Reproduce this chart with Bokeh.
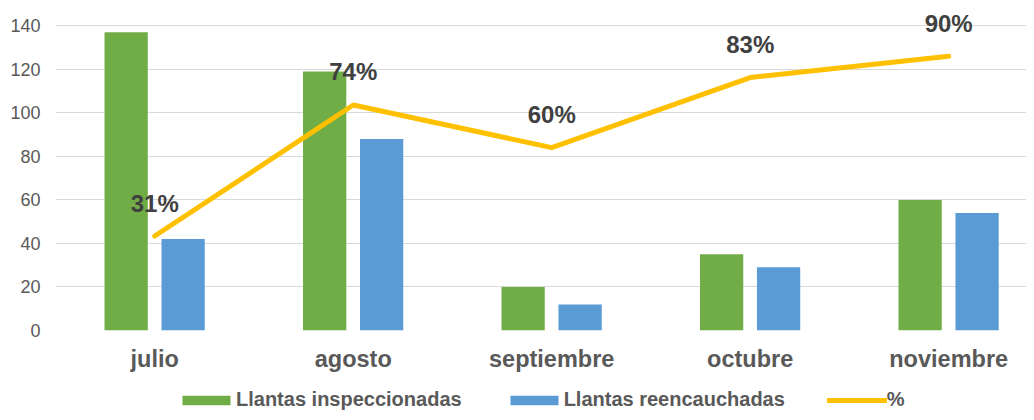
from bokeh.plotting import figure
from bokeh.models import (ColumnDataSource, Range1d, FixedTicker,
                          Legend, LegendItem, Spacer)
from bokeh.layouts import column, row
from bokeh.core.properties import value
from bokeh.embed import file_html
from bokeh.resources import INLINE

categories = ["julio", "agosto", "septiembre", "octubre", "noviembre"]
inspeccionadas = [137, 119, 20, 35, 60]
reencauchadas = [42, 88, 12, 29, 54]
porcentaje = [0.31, 0.74, 0.60, 0.83, 0.90]
pct_labels = ["31%", "74%", "60%", "83%", "90%"]
series_names = ["Llantas inspeccionadas", "Llantas reencauchadas", "%"]

FONT = "Liberation Sans"
GREEN = "#70AD47"
BLUE = "#5B9BD5"
GOLD = "#FFC000"
GREY = "#595959"

x = list(range(len(categories)))
src = ColumnDataSource(dict(
    x=x,
    xg=[i - 0.144 for i in x],
    xb=[i + 0.143 for i in x],
    ins=inspeccionadas,
    ree=reencauchadas,
    pct=porcentaje,
    lab=pct_labels,
))

Y_MAX = 147
p = figure(width=1026, height=380, output_backend="svg", toolbar_location=None,
           x_range=Range1d(-0.5, 4.392), y_range=Range1d(0, Y_MAX),
           min_border_left=55, min_border_right=0, min_border_top=10,
           min_border_bottom=50)
p.extra_y_ranges = {"pct": Range1d(0, Y_MAX / 140)}
p.outline_line_color = None
p.background_fill_color = "white"
p.border_fill_color = "white"

p.vbar(x="xg", top="ins", width=0.218, source=src, fill_color=GREEN,
       line_color=None)
p.vbar(x="xb", top="ree", width=0.218, source=src, fill_color=BLUE,
       line_color=None)
p.line(x="x", y="pct", source=src, y_range_name="pct", line_color=GOLD,
       line_width=5, line_cap="round", line_join="round")
p.text(x="x", y="pct", text="lab", source=src, y_range_name="pct",
       y_offset=-33, text_align="center", text_baseline="middle",
       text_font=value(FONT), text_font_style="bold", text_font_size="24px",
       text_color="#404040")

# axes
p.xaxis.ticker = FixedTicker(ticks=x)
p.xaxis.major_label_overrides = {i: c for i, c in enumerate(categories)}
p.xaxis.axis_line_color = None
p.xaxis.major_tick_line_color = None
p.xaxis.minor_tick_line_color = None
p.xaxis.major_tick_out = 0
p.xaxis.major_label_standoff = 15
p.xaxis.major_label_text_font = FONT
p.xaxis.major_label_text_font_style = "bold"
p.xaxis.major_label_text_font_size = "23.5px"
p.xaxis.major_label_text_color = GREY

p.yaxis.ticker = FixedTicker(ticks=[0, 20, 40, 60, 80, 100, 120, 140])
p.yaxis.axis_line_color = None
p.yaxis.major_tick_line_color = None
p.yaxis.minor_tick_line_color = None
p.yaxis.major_tick_out = 0
p.yaxis.major_label_standoff = 15
p.yaxis.major_label_text_font = FONT
p.yaxis.major_label_text_font_size = "18px"
p.yaxis.major_label_text_color = GREY

p.xgrid.grid_line_color = None
p.ygrid.grid_line_color = "#D9D9D9"
p.ygrid.grid_line_width = 1

# legend strip (separate small figure holding legend swatches)
lf = figure(width=850, height=32, output_backend="svg", toolbar_location=None,
            x_range=Range1d(0, 1), y_range=Range1d(0, 1),
            min_border_left=0, min_border_right=0, min_border_top=8,
            min_border_bottom=0)
lf.axis.visible = False
lf.grid.visible = False
lf.outline_line_color = None
lf.background_fill_color = "white"
lf.border_fill_color = "white"
nan = float("nan")
swatch = ColumnDataSource(dict(x=[nan], top=[nan], y=[nan]))
lg = lf.vbar(x="x", top="top", width=0.1, source=swatch, fill_color=GREEN,
             line_color=None)
lb = lf.vbar(x="x", top="top", width=0.1, source=swatch, fill_color=BLUE,
             line_color=None)
ll = lf.line(x="x", y="y", source=swatch, line_color=GOLD, line_width=5,
             line_cap="round")
legend = Legend(items=[
    LegendItem(label=series_names[0], renderers=[lg]),
    LegendItem(label=series_names[1], renderers=[lb]),
    LegendItem(label=series_names[2], renderers=[ll]),
], orientation="horizontal", location="top_left",
    glyph_width=60, glyph_height=12, label_standoff=0, spacing=42,
    label_text_font=FONT, label_text_font_style="bold",
    label_text_font_size="20px", label_text_color=GREY,
    border_line_color=None, background_fill_alpha=0, padding=0, margin=0)
lf.add_layout(legend)

layout = column(p, row(Spacer(width=176, height=32), lf))
open("out.html", "w").write(file_html(layout, INLINE))
